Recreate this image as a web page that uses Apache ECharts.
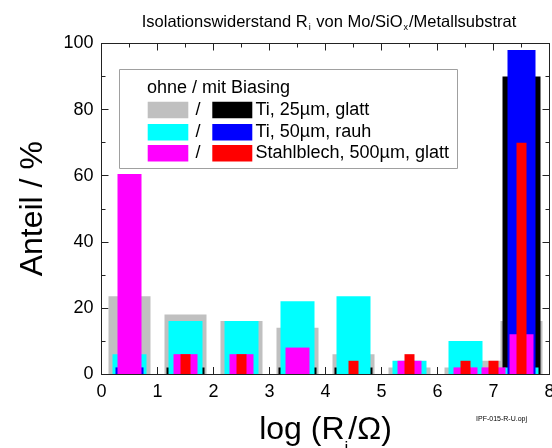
<!DOCTYPE html>
<html><head><meta charset="utf-8">
<script src="https://cdn.jsdelivr.net/npm/echarts@6/dist/echarts.min.js"></script>
<style>html,body{margin:0;padding:0;background:#fff}#c{width:552px;height:448px}</style>
</head><body><div id="c"></div>
<script>
// bin centres on log(Ri/Ohm)
const xPos = [0.5, 1.5, 2.5, 3.5, 4.5, 5.5, 6.5, 7.0, 7.5];
// "ohne Biasing" / "mit Biasing" shares in %
const tiGlattOhne = [23.5, 18, 16, 14, 6, 2, 2, 4, 16];   // grey
const tiGlattMit  = [0, 2, 0, 2, 2, 0, 0, 0, 90];          // black
const tiRauhOhne  = [6, 16, 16, 22, 23.5, 4, 10, 0, 2];    // cyan
const tiRauhMit   = [2, 0, 0, 0, 0, 0, 0, 0, 98];          // blue
const stahlOhne   = [60.5, 6, 6, 8, 0, 4, 2, 2, 12];       // magenta
const stahlMit    = [0, 6, 6, 0, 4, 6, 4, 4, 70];          // red
const xTicks = [0, 1, 2, 3, 4, 5, 6, 7, 8];
const yTicks = [0, 20, 40, 60, 80, 100];

const FONT = '"Liberation Sans", Arial, sans-serif';
const pairs = v => xPos.map((x, i) => [x, v[i]]);

const chart = echarts.init(document.getElementById('c'), null, {renderer: 'canvas'});

const axisLine = {show: true, onZero: false, lineStyle: {color: '#222', width: 1}};
const tick = {show: true, inside: true, length: 7, lineStyle: {color: '#222'}};
const minor = {show: true, splitNumber: 2, length: 4, lineStyle: {color: '#222'}};
function xAx(i, extra) {
  return Object.assign({
    type: 'value', min: xTicks[0], max: xTicks[xTicks.length - 1], interval: 1,
    gridIndex: 0, show: false, splitLine: {show: false},
    axisLine: {onZero: false}
  }, extra || {});
}
const xAxes = [
  xAx(0, {
    show: true, position: 'bottom',
    axisLine: axisLine, axisTick: tick, minorTick: minor,
    axisLabel: {fontSize: 18, color: '#000', margin: 9, fontFamily: FONT},
    name: '{a|log (R}{s|i}{a|/Ω)}',
    nameLocation: 'middle', nameGap: 40,
    nameTextStyle: {
      fontFamily: FONT, color: '#000',
      rich: {
        a: {fontSize: 32, fontFamily: FONT, color: '#000', lineHeight: 36, verticalAlign: 'top'},
        s: {fontSize: 17, fontFamily: FONT, color: '#000', lineHeight: 17, padding: [26, 0, 0, 0], verticalAlign: 'top'}
      }
    }
  }),
  xAx(1, {
    show: true, position: 'top',
    axisLine: axisLine, axisTick: tick, minorTick: minor,
    axisLabel: {show: false}
  }),
  xAx(2), xAx(3), xAx(4), xAx(5)
];

const yAxes = [
  {
    type: 'value', min: yTicks[0], max: yTicks[yTicks.length - 1], interval: 20, position: 'left',
    axisLine: axisLine, axisTick: tick, minorTick: minor,
    splitLine: {show: false},
    axisLabel: {fontSize: 18, color: '#000', margin: 8, fontFamily: FONT},
    name: 'Anteil / %', nameLocation: 'middle', nameGap: 52, nameRotate: 90,
    nameTextStyle: {fontSize: 32, fontFamily: FONT, color: '#000'}
  },
  {
    type: 'value', min: yTicks[0], max: yTicks[yTicks.length - 1], interval: 20, position: 'right',
    axisLine: axisLine, axisTick: tick, minorTick: minor,
    splitLine: {show: false},
    axisLabel: {show: false}
  }
];

function bar(name, vals, color, width, axisIdx) {
  return {
    name: name, type: 'bar', xAxisIndex: axisIdx, yAxisIndex: 0,
    data: pairs(vals), barWidth: width, itemStyle: {color: color},
    emphasis: {disabled: true}, silent: true
  };
}

const legendRows = [
  {c1: '#c0c0c0', c2: '#000000', t: 'Ti, 25µm, glatt'},
  {c1: '#00ffff', c2: '#0000ff', t: 'Ti, 50µm, rauh'},
  {c1: '#ff00ff', c2: '#ff0000', t: 'Stahlblech, 500µm, glatt'}
];
const g = [
  {type: 'rect', shape: {x: 119.5, y: 69.5, width: 338, height: 99}, style: {fill: '#fff', stroke: '#a0a0a0', lineWidth: 1}},
  {type: 'text', x: 147, y: 88, style: {text: 'ohne / mit Biasing', font: '18px ' + FONT, fill: '#000', verticalAlign: 'middle'}}
];
const rowY = [110, 132.3, 153.3];
legendRows.forEach((r, i) => {
  g.push({type: 'rect', shape: {x: 147.7, y: rowY[i] - 8.3, width: 40.6, height: 16.6}, style: {fill: r.c1}});
  g.push({type: 'text', x: 198, y: rowY[i], style: {text: '/', font: '18px ' + FONT, fill: '#000', align: 'center', verticalAlign: 'middle'}});
  g.push({type: 'rect', shape: {x: 212.3, y: rowY[i] - 8.3, width: 40, height: 16.6}, style: {fill: r.c2}});
  g.push({type: 'text', x: 255.5, y: rowY[i], style: {text: r.t, font: '18px ' + FONT, fill: '#000', verticalAlign: 'middle'}});
});
g.push({type: 'text', x: 501.5, y: 419, style: {text: 'IPF-015-R-U.opj', font: '7px ' + FONT, fill: '#000', align: 'center', verticalAlign: 'middle'}});

chart.setOption({
  animation: false,
  backgroundColor: '#fff',
  title: {
    text: '{a|Isolationswiderstand R}{s|i}{a| von Mo/SiO}{s|x}{a|/Metallsubstrat}',
    left: 324, top: 9, textAlign: 'center',
    textStyle: {
      fontFamily: FONT, color: '#000', fontWeight: 'normal',
      rich: {
        a: {fontSize: 16.5, fontFamily: FONT, color: '#000', fontWeight: 'normal', lineHeight: 17, verticalAlign: 'top'},
        s: {fontSize: 9, fontFamily: FONT, color: '#000', fontWeight: 'normal', lineHeight: 9, padding: [9, 1, 0, 1], verticalAlign: 'top'}
      }
    }
  },
  grid: {left: 101.5, right: 2.5, top: 43.5, bottom: 74, containLabel: false, outerBoundsMode: 'none'},
  xAxis: xAxes,
  yAxis: yAxes,
  series: [
    bar('Ti, 25µm, glatt (ohne)', tiGlattOhne, '#c0c0c0', 42, 0),
    bar('Ti, 25µm, glatt (mit)', tiGlattMit, '#000000', 38, 1),
    bar('Ti, 50µm, rauh (ohne)', tiRauhOhne, '#00ffff', 34, 2),
    bar('Ti, 50µm, rauh (mit)', tiRauhMit, '#0000ff', 28, 3),
    bar('Stahlblech (ohne)', stahlOhne, '#ff00ff', 24, 4),
    bar('Stahlblech (mit)', stahlMit, '#ff0000', 10, 5)
  ],
  graphic: g
});
</script></body></html>
